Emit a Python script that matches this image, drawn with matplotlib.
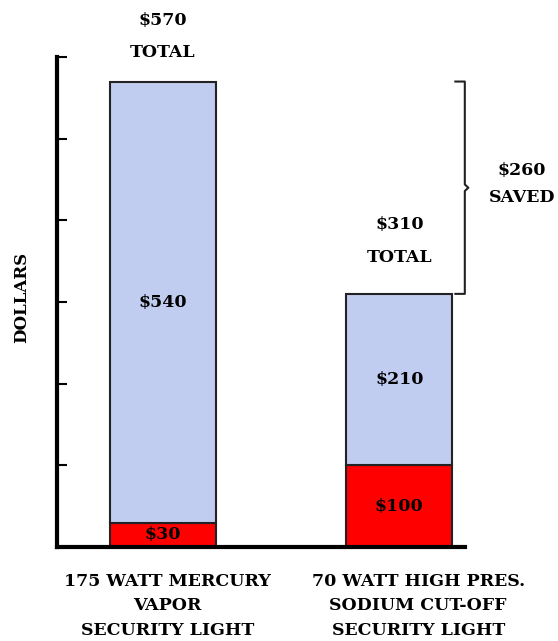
import matplotlib.pyplot as plt
import numpy as np

# data
lights = ["175 WATT MERCURY\nVAPOR\nSECURITY LIGHT",
          "70 WATT HIGH PRES.\nSODIUM CUT-OFF\nSECURITY LIGHT"]
lower_cost = [30, 100]     # red part
upper_cost = [540, 210]    # blue part
totals = [570, 310]
saved = 260

blue = "#c0ccf0"
red = "#ff0000"
font = dict(family="DejaVu Serif", fontweight="bold", color="black")
fs = 12.5

fig = plt.figure(figsize=(5.58, 6.41), dpi=100)
ax = fig.add_axes([0.102, 0.1466, 0.731, 0.7644])

x_pos = np.arange(len(lights))
width = 0.448

ax.bar(x_pos, lower_cost, width, color=red, edgecolor="#222222", linewidth=1.5)
ax.bar(x_pos, upper_cost, width, bottom=lower_cost, color=blue,
       edgecolor="#222222", linewidth=1.5)

ax.set_xlim(-0.448, 1.277)
ax.set_ylim(0, 600)
ax.set_yticks(np.arange(0, 601, 100))
ax.set_yticklabels([])
ax.set_xticks([])
ax.tick_params(axis="y", direction="in", length=7, width=1.5)
for s in ["top", "right"]:
    ax.spines[s].set_visible(False)
for s in ["left", "bottom"]:
    ax.spines[s].set_linewidth(3)

# segment labels
for i in range(len(lights)):
    ax.text(x_pos[i], lower_cost[i] / 2, f"${lower_cost[i]}", ha="center",
            va="center", fontsize=fs, **font)
    ax.text(x_pos[i], lower_cost[i] + upper_cost[i] / 2, f"${upper_cost[i]}",
            ha="center", va="center", fontsize=fs, **font)

# totals above bars
total_y = [(645, 605), (395, 354)]
for i in range(len(lights)):
    ax.text(x_pos[i], total_y[i][0], f"${totals[i]}", ha="center", va="center",
            fontsize=fs, clip_on=False, **font)
    ax.text(x_pos[i], total_y[i][1], "TOTAL", ha="center", va="center",
            fontsize=fs, clip_on=False, **font)

# brace showing the savings
bx = 1.277
mid = (totals[0] + totals[1]) / 2
ax.plot([bx - 0.04, bx, bx, bx + 0.015, bx, bx, bx - 0.04],
        [totals[0], totals[0], mid + 4, mid, mid - 4, totals[1], totals[1]],
        color="#222222", linewidth=1.5, clip_on=False)
ax.text(1.518, 461, f"${saved}", ha="center", va="center", fontsize=fs,
        clip_on=False, **font)
ax.text(1.518, 428, "SAVED", ha="center", va="center", fontsize=fs,
        clip_on=False, **font)

# x labels under bars
label_x = [0.02, 1.08]
for i in range(len(lights)):
    ax.text(label_x[i], -0.052, lights[i], ha="center", va="top",
            transform=ax.get_xaxis_transform(), fontsize=fs,
            linespacing=1.58, **font)

ax.text(-0.086, 0.51, "DOLLARS", rotation=90, ha="center", va="center",
        transform=ax.transAxes, fontsize=12, **font)

fig.savefig("out.png", dpi=100)
